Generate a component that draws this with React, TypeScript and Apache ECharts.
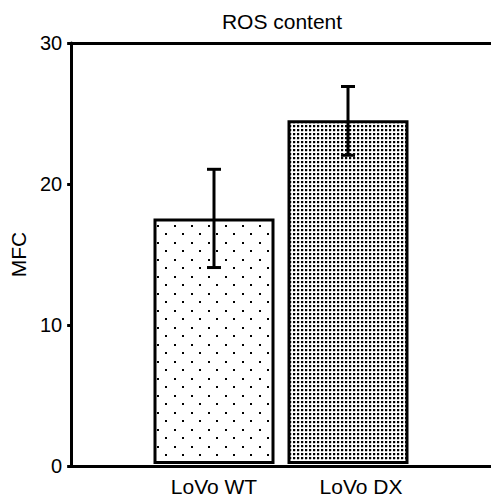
import React, { useEffect, useRef } from "react";
import * as echarts from "echarts";

const titleText = "ROS content";
const yAxisName = "MFC";
const categories = ["LoVo WT", "LoVo DX"];
const meanValues = [17.5, 24.5];
const errLow = [14, 22];
const errHigh = [21, 26.9];
const yMin = 0;
const yMax = 30;
const yInterval = 10;

const FONT = "'Liberation Sans', Arial, sans-serif";

function makePattern(
  w: number,
  h: number,
  dots: Array<[number, number, number, number, string]>
) {
  const c = document.createElement("canvas");
  c.width = w;
  c.height = h;
  const ctx = c.getContext("2d")!;
  ctx.fillStyle = "#ffffff";
  ctx.fillRect(0, 0, w, h);
  dots.forEach(([x, y, dw, dh, col]) => {
    ctx.fillStyle = col;
    ctx.fillRect(x, y, dw, dh);
  });
  return {
    image: c,
    repeat: "repeat",
    imageWidth: w,
    imageHeight: h,
  } as any;
}

export default function App() {
  const ref = useRef<HTMLDivElement>(null);

  useEffect(() => {
    if (!ref.current) return;
    const chart = echarts.init(ref.current, null, { renderer: "svg" });

    const sparse = makePattern(17, 17, [
      [4, 4, 2, 2, "#000"],
      [12, 12, 2, 2, "#000"],
    ]);
    const dense = makePattern(4, 4, [
      [1, 1, 2, 2, "#000"],
      [3, 1, 1, 2, "#c4c4c4"],
      [1, 3, 2, 1, "#c4c4c4"],
    ]);
    const patterns = [sparse, dense];

    const axisLineStyle = { color: "#000", width: 3 };

    const option: any = {
      animation: false,
      backgroundColor: "#fff",
      graphic: [
        {
          type: "text",
          x: 282,
          y: 21.5,
          style: {
            text: titleText,
            fill: "#000",
            fontSize: 21,
            fontFamily: FONT,
            align: "center",
            verticalAlign: "middle",
          },
        },
      ],
      grid: [
        { left: 61, right: 0, top: 43, bottom: 31 },
        { left: 147, width: 268, top: 43, bottom: 31 },
      ],
      xAxis: [
        {
          type: "value",
          gridIndex: 0,
          position: "bottom",
          min: 0,
          max: 1,
          axisLine: { show: true, lineStyle: axisLineStyle },
          axisTick: { show: false },
          axisLabel: { show: false },
          splitLine: { show: false },
        },
        {
          type: "value",
          gridIndex: 0,
          position: "top",
          min: 0,
          max: 1,
          axisLine: { show: true, lineStyle: axisLineStyle },
          axisTick: { show: false },
          axisLabel: { show: false },
          splitLine: { show: false },
        },
        {
          type: "category",
          gridIndex: 1,
          data: categories,
          axisLine: { show: false },
          axisTick: { show: false },
          splitLine: { show: false },
          axisLabel: {
            interval: 0,
            hideOverlap: false,
            margin: 12,
            color: "#000",
            fontSize: 21,
            fontFamily: FONT,
            formatter: (v: string) =>
              v === categories[1] ? `{dx|${v}}` : `{wt|${v}}`,
            rich: {
              wt: { fontSize: 21, fontFamily: FONT, color: "#000" },
              dx: {
                fontSize: 21,
                fontFamily: FONT,
                color: "#000",
                padding: [0, 0, 0, 26],
              },
            },
          },
        },
      ],
      yAxis: [
        {
          type: "value",
          gridIndex: 0,
          min: yMin,
          max: yMax,
          interval: yInterval,
          name: yAxisName,
          nameLocation: "middle",
          nameGap: 28,
          nameRotate: 90,
          nameTextStyle: { color: "#000", fontSize: 21, fontFamily: FONT },
          axisLine: { show: true, lineStyle: axisLineStyle },
          axisTick: { show: true, length: 4, lineStyle: { color: "#000", width: 3 } },
          axisLabel: { color: "#000", fontSize: 20, fontFamily: FONT, margin: 9 },
          splitLine: { show: false },
        },
        {
          type: "value",
          gridIndex: 1,
          min: yMin,
          max: yMax,
          interval: yInterval,
          show: false,
          splitLine: { show: false },
        },
      ],
      series: [
        {
          type: "bar",
          xAxisIndex: 2,
          yAxisIndex: 1,
          barWidth: 121,
          data: meanValues.map((v, i) => ({
            value: v,
            itemStyle: { color: patterns[i] },
          })),
          itemStyle: { borderColor: "#000", borderWidth: 3 },
        },
        {
          type: "custom",
          xAxisIndex: 2,
          yAxisIndex: 1,
          data: categories.map((_, i) => [i, errLow[i], errHigh[i]]),
          encode: { x: 0, y: [1, 2] },
          renderItem: (params: any, api: any) => {
            const i = api.value(0);
            const lo = api.coord([i, api.value(1)]);
            const hi = api.coord([i, api.value(2)]);
            const hw = 7;
            const st = { stroke: "#000", lineWidth: 3 };
            return {
              type: "group",
              children: [
                { type: "line", shape: { x1: lo[0], y1: lo[1], x2: hi[0], y2: hi[1] }, style: st },
                { type: "line", shape: { x1: hi[0] - hw, y1: hi[1], x2: hi[0] + hw, y2: hi[1] }, style: st },
                { type: "line", shape: { x1: lo[0] - hw, y1: lo[1], x2: lo[0] + hw, y2: lo[1] }, style: st },
              ],
            };
          },
          z: 5,
        },
      ],
    };

    chart.setOption(option);
    return () => chart.dispose();
  }, []);

  return (
    <div
      ref={ref}
      style={{ position: "fixed", left: 0, top: 0, width: 491, height: 497, background: "#fff" }}
    />
  );
}
